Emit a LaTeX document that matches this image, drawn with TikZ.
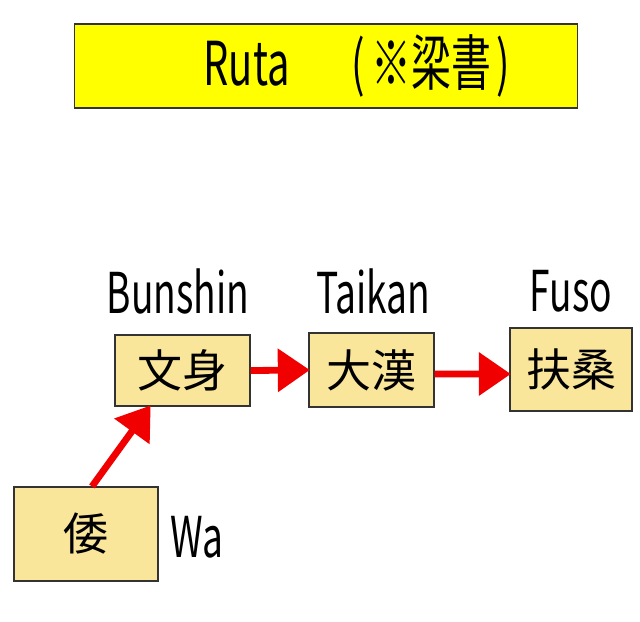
\documentclass[tikz,border=0pt]{standalone}
\usepackage{fontspec}
\setmainfont{Noto Sans CJK JP}
\newfontfamily\narrowfont[FakeStretch=0.66]{Noto Sans CJK JP}
\usetikzlibrary{arrows.meta,positioning,calc}
\definecolor{boxfill}{RGB}{250,230,155}
\definecolor{titlefill}{RGB}{255,255,0}
\definecolor{arrowred}{RGB}{240,0,0}
\tikzset{
  placebox/.style={draw=black!80,fill=boxfill,line width=0.8pt,inner sep=0pt,
    font=\fontsize{32}{36}\selectfont},
  placelabel/.style={inner sep=0pt,font=\narrowfont\fontsize{40}{46}\selectfont},
  route/.style={draw=arrowred,line width=0.17cm,
    -{Triangle[length=0.8cm,width=1.05cm]},shorten >=-1pt}
}
\begin{document}
\begin{tikzpicture}[x=0.025cm,y=-0.025cm]
			\useasboundingbox (0,0) rectangle (640,621);
			% title
			\node[draw=black!80,fill=titlefill,line width=0.8pt,minimum width=12.55cm,minimum height=2.1cm] (title) at (326,66) {};
			\node[inner sep=0pt,font=\narrowfont\fontsize{43}{48}\selectfont] (titletext) at (357,66) {Ruta\hspace{1.55cm}(\hspace{0.15cm}※梁書\hspace{0.15cm})};
			% places
			\node[placebox,minimum width=3.375cm,minimum height=1.775cm] (bunshin) at (182.5,370.5) {文身};
			\node[placebox,minimum width=3.125cm,minimum height=1.85cm] (taikan) at (371.5,370) {大漢};
			\node[placebox,minimum width=3.05cm,minimum height=2.075cm] (fuso) at (571,369.5) {扶桑};
			\node[placebox,minimum width=3.6cm,minimum height=2.35cm] (wa) at (86,534) {倭};
			% names
			\node[placelabel,above=0.5cm of bunshin,xshift=-0.11cm] (bunshinname) {Bunshin};
			\node[placelabel,above=0.45cm of taikan,xshift=0.04cm] (taikanname) {Taikan};
			\node[placelabel,above=0.38cm of fuso] (fusoname) {Fuso};
			\node[placelabel,right=0.3cm of wa,yshift=-0.08cm] (waname) {Wa};
			% routes
			\draw[route] (bunshin.east) -- (taikan.west);
			\draw[route] ($(taikan.east)+(0,4)$) -- ($(fuso.west)+(0,4.5)$);
			\draw[route] ($(wa.north)+(6,0)$) -- ($(bunshin.south west)!0.26!(bunshin.south east)$);
\end{tikzpicture}
\end{document}
